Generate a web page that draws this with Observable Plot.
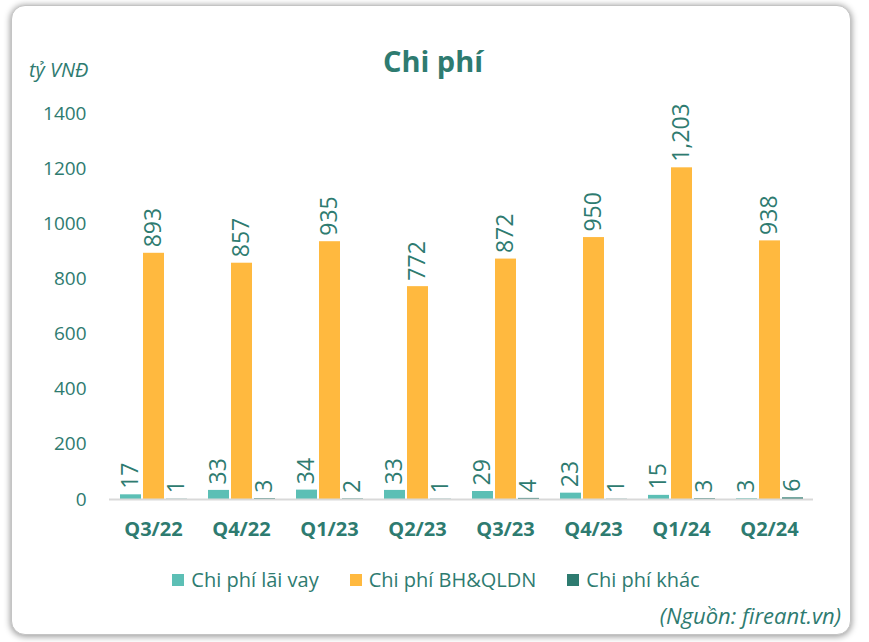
<!DOCTYPE html>
<html>
<head>
<meta charset="utf-8">
<script src="https://cdn.jsdelivr.net/npm/d3@7"></script>
<script src="https://cdn.jsdelivr.net/npm/@observablehq/plot@0.6"></script>
<style>
  html, body { margin: 0; padding: 0; background: #ffffff; }
  #wrap { position: relative; width: 869px; height: 642px; overflow: hidden; background: #fff; font-family: "Open Sans", "Noto Sans", sans-serif; }
  #frame { position: absolute; left: 11px; top: 5px; width: 838px; height: 628px; border: 1px solid #c4c4c4; border-radius: 14px; box-shadow: 0 1px 6px 1px rgba(0,0,0,0.38); background: #fff; }
  #title { position: absolute; left: 0; width: 866px; top: 41px; text-align: center; font-weight: 700; font-size: 29px; color: #2e7b70; line-height: 40px; }
  #ylabel { position: absolute; left: 29px; top: 56px; font-style: italic; font-size: 20px; color: #2e7b70; line-height: 28px; }
  #chart { position: absolute; left: 0; top: 90px; }
  #legend { position: absolute; left: 0; width: 872px; top: 566px; display: flex; justify-content: center; gap: 31px; font-size: 20px; color: #2e7b70; line-height: 28px; }
  #legend .item { display: flex; align-items: center; gap: 7px; }
  #legend .sw { width: 12px; height: 12px; display: inline-block; }
  #caption { position: absolute; right: 28px; top: 600px; font-style: italic; font-size: 22px; color: #2e7b70; line-height: 30px; }
</style>
</head>
<body>
<div id="wrap">
  <div id="frame"></div>
  <div id="title">Chi phí</div>
  <div id="ylabel">tỷ VNĐ</div>
  <div id="chart"></div>
  <div id="legend"></div>
  <div id="caption">(Nguồn: fireant.vn)</div>
</div>
<script>
const quarters = ["Q3/22", "Q4/22", "Q1/23", "Q2/23", "Q3/23", "Q4/23", "Q1/24", "Q2/24"];
const laiVay = [17, 33, 34, 33, 29, 23, 15, 3];
const bhQldn = [893, 857, 935, 772, 872, 950, 1203, 938];
const khac = [1, 3, 2, 1, 4, 1, 3, 6];
const seriesNames = ["Chi phí lãi vay", "Chi phí BH&QLDN", "Chi phí khác"];
const seriesColors = ["#5cbfb5", "#ffb93f", "#2e7b70"];
const yTicks = [0, 200, 400, 600, 800, 1000, 1200, 1400];

const seriesValues = [laiVay, bhQldn, khac];
const rows = [];
quarters.forEach((q, i) => {
  seriesNames.forEach((s, j) => rows.push({q, s, v: seriesValues[j][i]}));
});

const textColor = "#2e7b70";
const chart = Plot.plot({
  width: 869,
  height: 460,
  marginLeft: 107,
  marginRight: 55,
  marginTop: 23,
  marginBottom: 51,
  style: {fontFamily: "'Open Sans', 'Noto Sans', sans-serif", background: "transparent"},
  fx: {domain: quarters, padding: 0},
  x: {domain: seriesNames, paddingInner: 0.1, paddingOuter: 0.445, axis: null},
  y: {domain: [0, 1400]},
  color: {domain: seriesNames, range: seriesColors},
  marks: [
    Plot.axisY({ticks: yTicks, tickSize: 0, tickPadding: 23, tickFormat: d => String(d), label: null, fontSize: 19, fill: textColor}),
    Plot.axisFx({anchor: "bottom", tickSize: 0, tickPadding: 22, label: null, fontSize: 20, fontWeight: "bold", fill: textColor}),
    Plot.barY(rows, {fx: "q", x: "s", y: "v", fill: "s"}),
    Plot.ruleY([0], {stroke: "#d9d9d9", strokeWidth: 2}),
    Plot.text(rows, {fx: "q", x: "s", y: "v", text: d => d3.format(",")(d.v), rotate: -90, textAnchor: "start", dy: -6, fill: textColor, fontSize: 23})
  ]
});
document.getElementById("chart").appendChild(chart);

const legend = document.getElementById("legend");
seriesNames.forEach((s, i) => {
  const item = document.createElement("div");
  item.className = "item";
  const sw = document.createElement("span");
  sw.className = "sw";
  sw.style.background = seriesColors[i];
  const label = document.createElement("span");
  label.textContent = s;
  item.appendChild(sw);
  item.appendChild(label);
  legend.appendChild(item);
});
</script>
</body>
</html>
